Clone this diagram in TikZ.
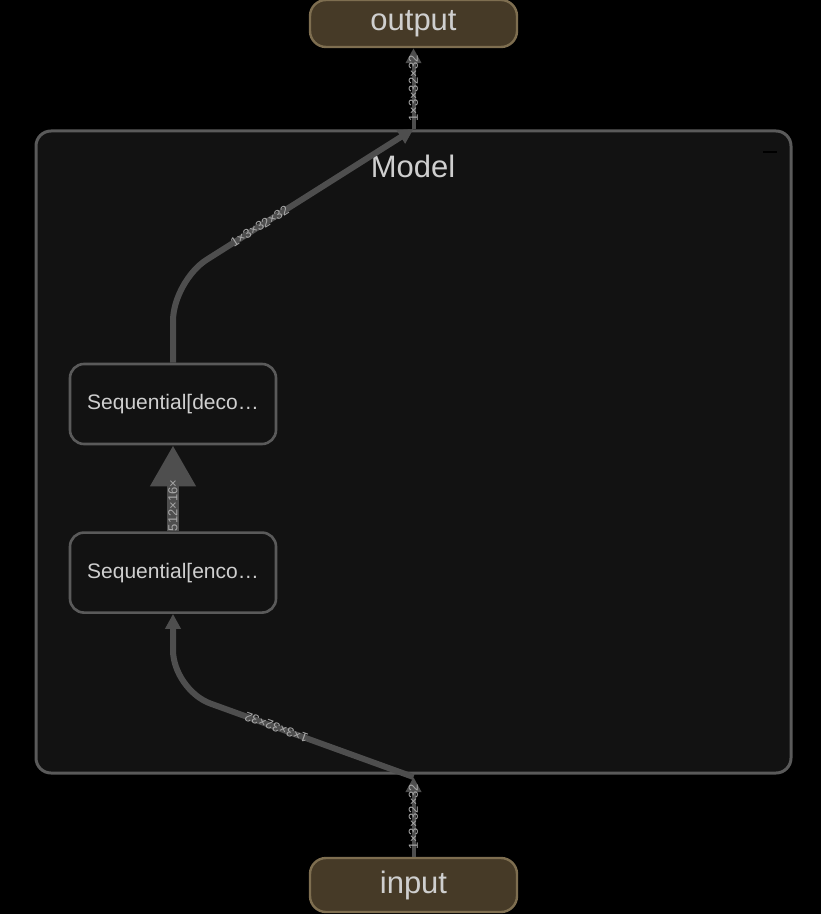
\documentclass[tikz,border=0pt]{standalone}
\usepackage{fontspec}
\setmainfont{Liberation Sans}
\usetikzlibrary{arrows.meta,positioning}
\definecolor{graphbg}{HTML}{000000}
\definecolor{panelfill}{HTML}{121212}
\definecolor{panelline}{HTML}{5A5A5A}
\definecolor{iofill}{HTML}{463A27}
\definecolor{ioline}{HTML}{7E6E50}
\definecolor{edgegray}{HTML}{4E4E4E}
\definecolor{labelgray}{HTML}{A8A8A8}
\definecolor{textgray}{HTML}{CFCFCF}
\tikzset{
  iobox/.style={draw=ioline,fill=iofill,line width=1.2pt,rounded corners=8pt,
    minimum width=103.5pt,text=textgray,font=\fontsize{15.5}{18}\selectfont},
  layerbox/.style={draw=panelline,fill=panelfill,line width=1.3pt,rounded corners=7pt,
    minimum width=103pt,minimum height=40pt,text=textgray,font=\fontsize{10.5}{12}\selectfont},
  edge/.style={draw=edgegray,line width=3pt,-{Triangle[length=7.5pt,width=7.5pt]}},
  shapelabel/.style={text=labelgray,font=\fontsize{6.5}{7}\selectfont,inner sep=0.5pt,sloped}
}

\begin{document}
\begin{tikzpicture}[x=0.5pt,y=-0.5pt]
  \fill[graphbg] (0,0) rectangle (821,914);
  \useasboundingbox (0,0) rectangle (821,914);
  % model panel
  \draw[panelline,fill=panelfill,line width=1.5pt,rounded corners=7.5pt] (36,131) rectangle (791,773);
  \node[textgray,font=\fontsize{15.5}{18}\selectfont] (modeltitle) at (413,166) {Model};
  \draw[black,line width=1pt] (763,152) -- (777,152);
  % nodes
  \node[iobox,minimum height=23.5pt] (output) at (413.5,23.5) {output};
  \node[iobox,minimum height=27pt] (input) at (413.5,885) {input};
  \node[layerbox] (deco) at (173,404) {Sequential[deco…};
  \node[layerbox,below=43pt of deco] (enco) {Sequential[enco…};
  \coordinate (inport) at (413.5,777);
  \coordinate (outport) at (413.5,129);
  % edges
  \draw[edge,line width=2pt] (input.north) -- node[shapelabel] {1×3×32×32} (inport);
  \draw[edge,rounded corners=20pt] (inport) -- node[shapelabel,allow upside down,pos=0.57] {1×3×32×32} (173,690) -- (enco.south);
  \draw[edge,line width=6pt,-{Triangle[length=20.5pt,width=21.5pt]}] (enco.north) -- node[shapelabel,pos=0.3] {512×16×} (deco.south);
  \draw[edge,rounded corners=20pt] (deco.north) -- (173,281) -- node[shapelabel,pos=0.36] {1×3×32×32} (outport);
  \draw[edge,line width=2pt] (outport) -- node[shapelabel] {1×3×32×32} (output.south);
\end{tikzpicture}
\end{document}
